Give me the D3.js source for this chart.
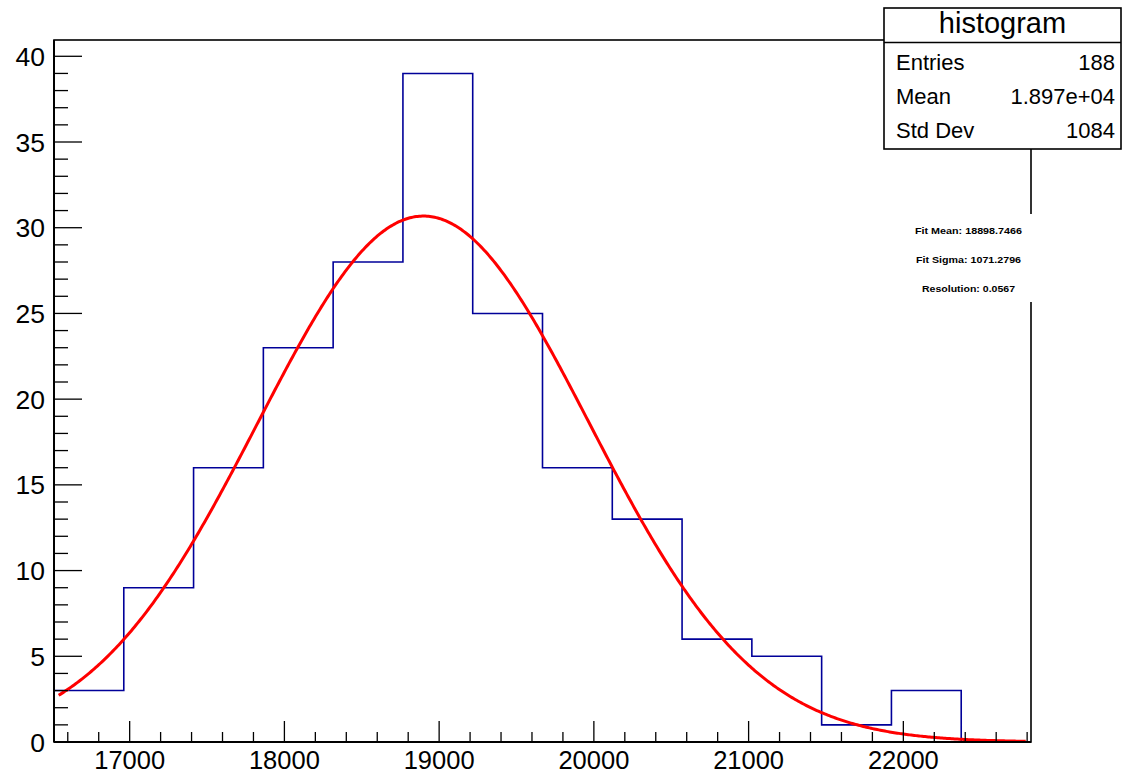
<!DOCTYPE html>
<html>
<head>
<meta charset="utf-8">
<script src="https://cdn.jsdelivr.net/npm/d3@7"></script>
<style>
  body { margin: 0; background: #fff; }
  svg { display: block; font-family: "Liberation Sans", Arial, Helvetica, sans-serif; }
</style>
</head>
<body>
<div id="chart"></div>
<script>
// histogram contents (14 equal bins)
const binEdgesRange = [16511, 22825];
const binCounts = [3, 9, 16, 23, 28, 39, 25, 16, 13, 6, 5, 1, 3, 0];

// gaussian fit parameters
const fitMean = 18898.7466;
const fitSigma = 1071.2796;
const fitConstant = 30.68;

// stats box
const statsTitle = "histogram";
const statsRows = [["Entries", "188"], ["Mean", "1.897e+04"], ["Std Dev", "1084"]];
const fitLines = ["Fit Mean: 18898.7466", "Fit Sigma: 1071.2796", "Resolution: 0.0567"];
const fitLineWidths = [107, 105, 93];

const yMax = 40.95;

const W = 1122, H = 775;
const frame = { left: 54, top: 40, right: 1031, bottom: 742 };

const svg = d3.select("#chart").append("svg")
  .attr("width", W)
  .attr("height", H);

const x = d3.scaleLinear().domain(binEdgesRange).range([frame.left, frame.right]);
const y = d3.scaleLinear().domain([0, yMax]).range([frame.bottom, frame.top]);

const nBins = binCounts.length;
const binW = (binEdgesRange[1] - binEdgesRange[0]) / nBins;
const edges = d3.range(nBins + 1).map(i => binEdgesRange[0] + i * binW);

// frame
svg.append("rect")
  .attr("x", frame.left).attr("y", frame.top)
  .attr("width", frame.right - frame.left)
  .attr("height", frame.bottom - frame.top)
  .attr("fill", "none").attr("stroke", "#000").attr("stroke-width", 1.6);

// histogram step outline
const pts = [[edges[0], 0]];
binCounts.forEach((c, i) => {
  pts.push([edges[i], c]);
  pts.push([edges[i + 1], c]);
});
pts.push([edges[nBins], 0]);
svg.append("path")
  .attr("d", d3.line().x(d => x(d[0])).y(d => y(d[1]))(pts))
  .attr("fill", "none")
  .attr("stroke", "#000099")
  .attr("stroke-width", 1.6);

// gaussian fit curve
const fitX = d3.range(binEdgesRange[0] + 30, 22800, 10);
const gauss = v => fitConstant * Math.exp(-0.5 * Math.pow((v - fitMean) / fitSigma, 2));
svg.append("path")
  .attr("d", d3.line().x(d => x(d)).y(d => y(gauss(d)))(fitX))
  .attr("fill", "none")
  .attr("stroke", "#ff0000")
  .attr("stroke-width", 3);

// axes (ROOT style ticks)
const axisG = svg.append("g").attr("stroke", "#000");

// x axis ticks
const xMinor = d3.range(16600, 22801, 200);
xMinor.forEach(v => {
  const major = v % 1000 === 0;
  axisG.append("line")
    .attr("x1", x(v)).attr("x2", x(v))
    .attr("y1", frame.bottom).attr("y2", frame.bottom - (major ? 21 : 10))
    .attr("stroke-width", 1.3);
});
const xMajor = [17000, 18000, 19000, 20000, 21000, 22000];
svg.append("g").selectAll("text")
  .data(xMajor).join("text")
  .attr("x", d => x(d))
  .attr("y", 769)
  .attr("text-anchor", "middle")
  .attr("font-size", 25.5)
  .text(d => d);

// y axis ticks
const yMinor = d3.range(0, 41, 1);
yMinor.forEach(v => {
  const major = v % 5 === 0;
  axisG.append("line")
    .attr("x1", frame.left).attr("x2", frame.left + (major ? 28 : 14))
    .attr("y1", y(v)).attr("y2", y(v))
    .attr("stroke-width", 1.3);
});
const yMajor = [0, 5, 10, 15, 20, 25, 30, 35, 40];
svg.append("g").selectAll("text")
  .data(yMajor).join("text")
  .attr("x", 45)
  .attr("y", d => y(d) + 9.5)
  .attr("text-anchor", "end")
  .attr("font-size", 26.5)
  .text(d => d);

// axis lines on top
axisG.append("line")
  .attr("x1", frame.left).attr("x2", frame.right)
  .attr("y1", frame.bottom).attr("y2", frame.bottom).attr("stroke-width", 2);
axisG.append("line")
  .attr("x1", frame.left).attr("x2", frame.left)
  .attr("y1", frame.top).attr("y2", frame.bottom).attr("stroke-width", 2);

// fit text pave (white, no border)
svg.append("rect")
  .attr("x", 904).attr("y", 214)
  .attr("width", 129).attr("height", 88)
  .attr("fill", "#fff");
svg.append("g").selectAll("text")
  .data(fitLines).join("text")
  .attr("x", 968.5)
  .attr("y", (d, i) => 234 + i * 29)
  .attr("text-anchor", "middle")
  .attr("font-size", 9)
  .attr("font-weight", "bold")
  .attr("textLength", (d, i) => fitLineWidths[i])
  .attr("lengthAdjust", "spacingAndGlyphs")
  .text(d => d);

// stats box
const sb = { x: 884, y: 8, w: 237, h: 141 };
svg.append("rect")
  .attr("x", sb.x).attr("y", sb.y)
  .attr("width", sb.w).attr("height", sb.h)
  .attr("fill", "#fff").attr("stroke", "#000").attr("stroke-width", 1.6);
svg.append("line")
  .attr("x1", sb.x).attr("x2", sb.x + sb.w)
  .attr("y1", 42.5).attr("y2", 42.5)
  .attr("stroke", "#000").attr("stroke-width", 1.6);
svg.append("text")
  .attr("x", sb.x + sb.w / 2)
  .attr("y", 33)
  .attr("text-anchor", "middle")
  .attr("font-size", 29)
  .text(statsTitle);
statsRows.forEach((r, i) => {
  const by = 70 + i * 34.2;
  svg.append("text")
    .attr("x", 896).attr("y", by)
    .attr("font-size", 22)
    .text(r[0]);
  svg.append("text")
    .attr("x", 1115).attr("y", by)
    .attr("text-anchor", "end")
    .attr("font-size", 22)
    .text(r[1]);
});
</script>
</body>
</html>
